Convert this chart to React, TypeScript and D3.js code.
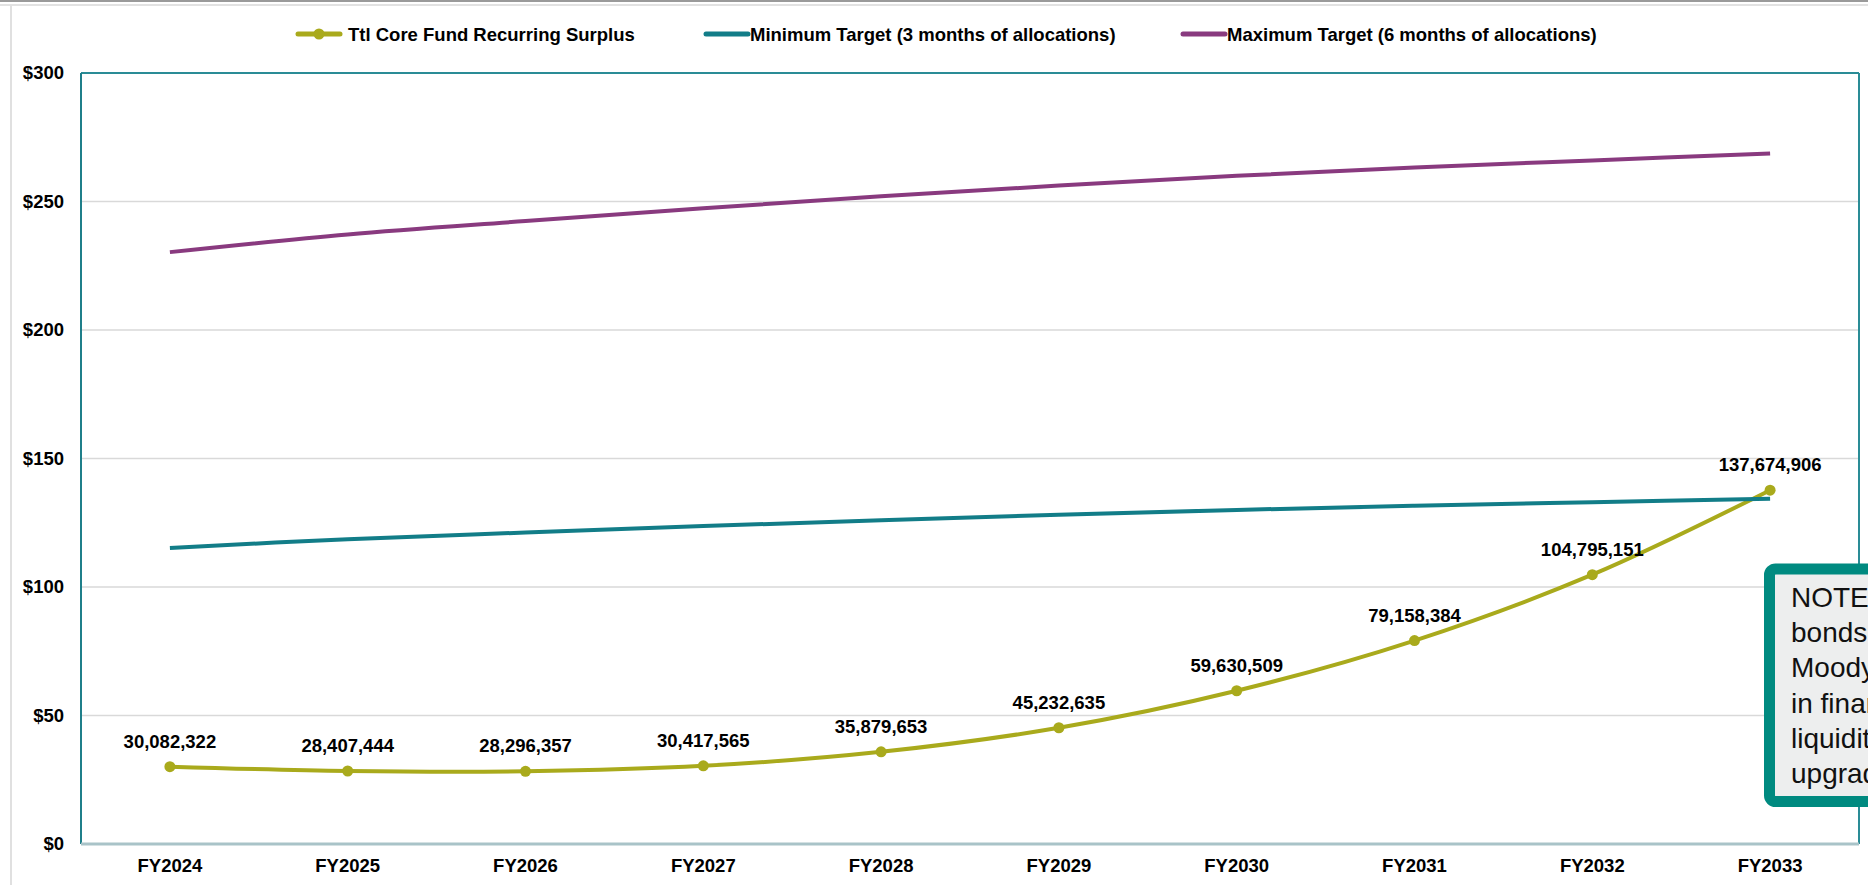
import React from "react";
import * as d3 from "d3";

const categories = ["FY2024", "FY2025", "FY2026", "FY2027", "FY2028", "FY2029", "FY2030", "FY2031", "FY2032", "FY2033"];
const surplusRaw = [30082322, 28407444, 28296357, 30417565, 35879653, 45232635, 59630509, 79158384, 104795151, 137674906];
const minTarget = [115.2, 118.6, 121.2, 123.7, 126.0, 128.1, 130.0, 131.6, 133.0, 134.3];
const maxTarget = [230.3, 237.2, 242.4, 247.4, 252.0, 256.2, 260.0, 263.2, 266.0, 268.7];
const yTicks = [0, 50, 100, 150, 200, 250, 300];
const seriesNames = [
  "Ttl Core Fund Recurring Surplus",
  "Minimum Target (3 months of allocations)",
  "Maximum Target (6 months of allocations)",
];
const noteLines = [
  "NOTE: Recent revenue",
  "bonds ratings from",
  "Moody's cite improvements",
  "in financial reserves and",
  "liquidity as drivers of the",
  "upgrade.",
];

const W = 1868;
const H = 885;
const M = { left: 81, right: 1859, top: 73, bottom: 844 };
const C_SURPLUS = "#A9AA1C";
const C_MIN = "#127D88";
const C_MAX = "#893A7F";
const FONT = "'Liberation Sans', Arial, sans-serif";
const FS = 18.5;

export default function App() {
  const x = d3
    .scalePoint<string>()
    .domain(categories)
    .range([M.left, M.right])
    .padding(0.5);
  const y = d3.scaleLinear().domain([0, 300]).range([M.bottom, M.top]);
  const surplus = surplusRaw.map((v) => v / 1e6);
  const line = d3
    .line<number>()
    .x((_, i) => x(categories[i]) as number)
    .y((v) => y(v))
    .curve(d3.curveCardinal.tension(0));
  const fmt = d3.format(",");

  return (
    <div style={{ position: "absolute", left: 0, top: 0, width: W, height: H, overflow: "hidden" }}>
      <svg width={W} height={H} style={{ display: "block", background: "#fff" }}>
        {/* outer frame */}
        <line x1={0} x2={W} y1={1} y2={1} stroke="#9a9a9a" strokeWidth={2} />
        <line x1={0} x2={W} y1={5} y2={5} stroke="#e2e2e2" strokeWidth={2} />
        <line x1={11} x2={11} y1={5} y2={H} stroke="#e0e0e0" strokeWidth={2} />

        {/* gridlines */}
        {yTicks.filter((t) => t > 0 && t < 300).map((t) => (
          <line key={t} x1={M.left} x2={M.right} y1={y(t)} y2={y(t)} stroke="#d9d9d9" strokeWidth={1.5} />
        ))}
        {/* plot border */}
        <line x1={M.left} x2={M.right} y1={M.top} y2={M.top} stroke="#2a8c96" strokeWidth={2} />
        <line x1={M.left} x2={M.left} y1={M.top} y2={M.bottom} stroke="#1f7f8a" strokeWidth={2} />
        <line x1={M.right} x2={M.right} y1={M.top} y2={M.bottom} stroke="#2a8c96" strokeWidth={2} />
        <line x1={M.left} x2={M.right} y1={M.bottom} y2={M.bottom} stroke="#a9c3c8" strokeWidth={3} />

        {/* y axis labels */}
        {yTicks.map((t) => (
          <text key={t} x={64} y={y(t)} dy="0.35em" textAnchor="end" fontFamily={FONT} fontWeight="bold" fontSize={FS} fill="#000">
            {"$" + t}
          </text>
        ))}
        {/* x axis labels */}
        {categories.map((c) => (
          <text key={c} x={x(c)} y={872} textAnchor="middle" fontFamily={FONT} fontWeight="bold" fontSize={FS} fill="#000">
            {c}
          </text>
        ))}

        {/* series */}
        <path d={line(surplus) || ""} fill="none" stroke={C_SURPLUS} strokeWidth={4} strokeLinejoin="round" />
        {surplus.map((v, i) => (
          <circle key={i} cx={x(categories[i])} cy={y(v)} r={5.5} fill={C_SURPLUS} />
        ))}
        <path d={line(minTarget) || ""} fill="none" stroke={C_MIN} strokeWidth={4} />
        <path d={line(maxTarget) || ""} fill="none" stroke={C_MAX} strokeWidth={4} />

        {/* data labels */}
        {surplusRaw.map((v, i) => (
          <text key={i} x={x(categories[i])} y={y(surplus[i]) - 19} textAnchor="middle" fontFamily={FONT} fontWeight="bold" fontSize={FS} fill="#000">
            {fmt(v)}
          </text>
        ))}

        {/* legend */}
        <g fontFamily={FONT} fontWeight="bold" fontSize={FS} fill="#000">
          <line x1={298} x2={340} y1={34} y2={34} stroke={C_SURPLUS} strokeWidth={5} strokeLinecap="round" />
          <circle cx={319} cy={34} r={5.5} fill={C_SURPLUS} />
          <text x={348} y={40.5}>{seriesNames[0]}</text>
          <line x1={706} x2={748} y1={34} y2={34} stroke={C_MIN} strokeWidth={5} strokeLinecap="round" />
          <text x={750} y={40.5}>{seriesNames[1]}</text>
          <line x1={1183} x2={1225} y1={34} y2={34} stroke={C_MAX} strokeWidth={5} strokeLinecap="round" />
          <text x={1227} y={40.5}>{seriesNames[2]}</text>
        </g>

        {/* note box */}
        <rect x={1769.5} y={569} width={300} height={232.5} rx={6} fill="#EDEEEE" stroke="#008A80" strokeWidth={11} />
        <g fontFamily={FONT} fontSize={28} fill="#111">
          {noteLines.map((l, i) => (
            <text key={i} x={1791} y={607 + i * 35.2}>{l}</text>
          ))}
        </g>
      </svg>
    </div>
  );
}
